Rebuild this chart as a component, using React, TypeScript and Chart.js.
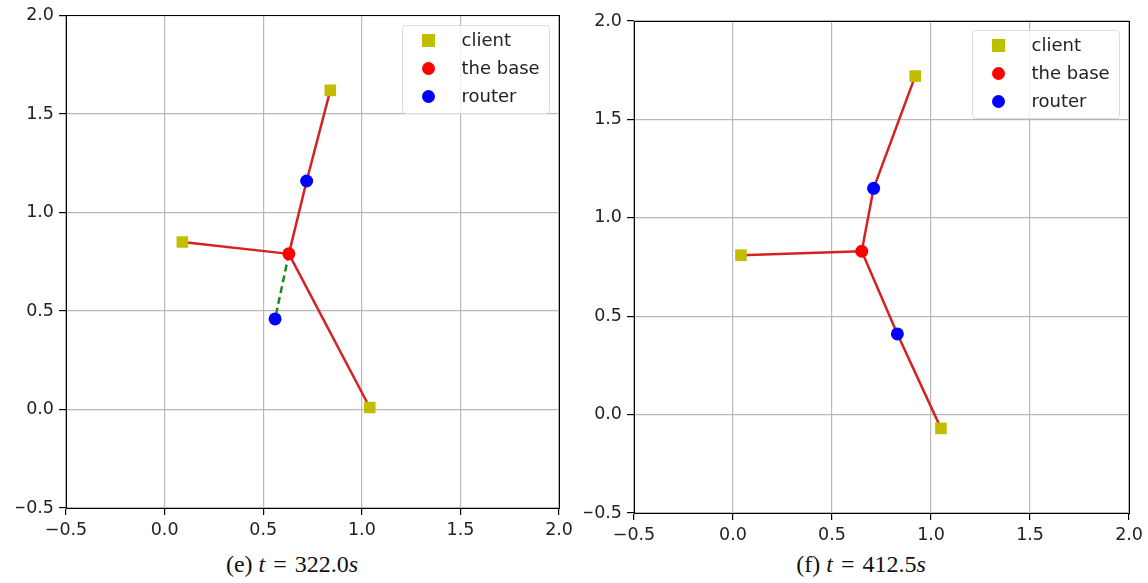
import React, { useEffect, useRef } from "react";
import { Chart, registerables } from "chart.js";

Chart.register(...registerables);

// ---------- data ----------
const TICKS = [-0.5, 0.0, 0.5, 1.0, 1.5, 2.0];
const LEGEND_LABELS = ["client", "the base", "router"];

// panel (e) t = 322.0s
const clientXE = [0.09, 0.84, 1.04];
const clientYE = [0.85, 1.62, 0.01];
const baseXE = [0.63];
const baseYE = [0.79];
const routerXE = [0.72, 0.56];
const routerYE = [1.16, 0.46];
const redLinksE = [["b0", "c0"], ["b0", "r0", "c1"], ["b0", "c2"]];
const greenLinksE = [["b0", "r1"]];

// panel (f) t = 412.5s
const clientXF = [0.04, 0.92, 1.05];
const clientYF = [0.81, 1.72, -0.07];
const baseXF = [0.65];
const baseYF = [0.83];
const routerXF = [0.71, 0.83];
const routerYF = [1.15, 0.41];
const redLinksF = [["b0", "c0"], ["b0", "r0", "c1"], ["b0", "r1", "c2"]];
const greenLinksF: string[][] = [];

// ---------- styles ----------
const CLIENT_COLOR = "#bfbf00";
const BASE_COLOR = "#ff0000";
const ROUTER_COLOR = "#0000ff";
const RED_LINE = "#d42222";
const GREEN_LINE = "#1a8a1a";
const TICK_FONT = { family: "'DejaVu Sans', sans-serif", size: 17.5 };

type PanelData = {
  clientX: number[];
  clientY: number[];
  baseX: number[];
  baseY: number[];
  routerX: number[];
  routerY: number[];
  red: string[][];
  green: string[][];
};

const panelE: PanelData = {
  clientX: clientXE, clientY: clientYE, baseX: baseXE, baseY: baseYE,
  routerX: routerXE, routerY: routerYE, red: redLinksE, green: greenLinksE,
};
const panelF: PanelData = {
  clientX: clientXF, clientY: clientYF, baseX: baseXF, baseY: baseYF,
  routerX: routerXF, routerY: routerYF, red: redLinksF, green: greenLinksF,
};

function node(id: string, p: PanelData) {
  const k = id[0];
  const i = parseInt(id.slice(1), 10);
  if (k === "c") return { x: p.clientX[i], y: p.clientY[i] };
  if (k === "b") return { x: p.baseX[i], y: p.baseY[i] };
  return { x: p.routerX[i], y: p.routerY[i] };
}

function fmt(v: number) {
  return (v < 0 ? "\u2212" : "") + Math.abs(v).toFixed(1);
}

const framePlugin = {
  id: "frameLegend",
  afterDraw(chart: any) {
    const ctx = chart.ctx as CanvasRenderingContext2D;
    const a = chart.chartArea;
    ctx.save();
    const l = Math.floor(a.left) + 0.5;
    const r = Math.floor(a.right) + 0.5;
    const t = Math.floor(a.top) + 0.5;
    const b = Math.floor(a.bottom) + 0.5;
    ctx.strokeStyle = "#000";
    ctx.lineWidth = 1;
    ctx.strokeRect(l, t, r - l, b - t);

    // legend box
    const w = 147;
    const h = 88;
    const bx = Math.round(a.right - 10 - w) + 0.5;
    const by = Math.round(a.top + 9) + 0.5;
    ctx.beginPath();
    const rad = 3;
    ctx.moveTo(bx + rad, by);
    ctx.lineTo(bx + w - rad, by);
    ctx.arcTo(bx + w, by, bx + w, by + rad, rad);
    ctx.lineTo(bx + w, by + h - rad);
    ctx.arcTo(bx + w, by + h, bx + w - rad, by + h, rad);
    ctx.lineTo(bx + rad, by + h);
    ctx.arcTo(bx, by + h, bx, by + h - rad, rad);
    ctx.lineTo(bx, by + rad);
    ctx.arcTo(bx, by, bx + rad, by, rad);
    ctx.closePath();
    ctx.fillStyle = "rgba(255,255,255,0.8)";
    ctx.fill();
    ctx.strokeStyle = "#dcdcdc";
    ctx.stroke();

    const colors = [CLIENT_COLOR, BASE_COLOR, ROUTER_COLOR];
    ctx.font = "18px 'DejaVu Sans', sans-serif";
    ctx.textBaseline = "middle";
    ctx.textAlign = "left";
    LEGEND_LABELS.forEach((label, i) => {
      const cy = by + 15 + i * 28;
      const cx = bx + 26;
      ctx.fillStyle = colors[i];
      if (i === 0) {
        ctx.fillRect(cx - 6.5, cy - 6.5, 13, 13);
      } else {
        ctx.beginPath();
        ctx.arc(cx, cy, 6.5, 0, Math.PI * 2);
        ctx.fill();
      }
      ctx.fillStyle = "#222";
      ctx.fillText(label, bx + 59, cy + 1);
    });
    ctx.restore();
  },
};

function makeScale() {
  return {
    type: "linear",
    min: -0.5,
    max: 2.0,
    afterBuildTicks: (s: any) => {
      s.ticks = TICKS.map((v) => ({ value: v }));
    },
    ticks: {
      callback: (v: any) => fmt(Number(v)),
      color: "#222",
      font: TICK_FONT,
      padding: 5,
      maxRotation: 0,
      autoSkip: false,
    },
    grid: {
      color: "#b8b8b8",
      lineWidth: 1.2,
      tickColor: "#000",
      tickLength: 7,
      drawTicks: true,
    },
    border: { display: true, color: "#000", width: 1 },
  };
}

function ChartPanel(props: {
  data: PanelData;
  left: number;
  width: number;
  height: number;
  padding: { left: number; right: number; top: number; bottom: number };
}) {
  const ref = useRef<HTMLCanvasElement | null>(null);
  useEffect(() => {
    const p = props.data;
    const datasets: any[] = [];
    p.red.forEach((link) => {
      datasets.push({
        label: "link",
        data: link.map((id) => node(id, p)),
        showLine: true,
        borderColor: RED_LINE,
        borderWidth: 2.5,
        pointRadius: 0,
        fill: false,
        tension: 0,
        order: 3,
      });
    });
    p.green.forEach((link) => {
      datasets.push({
        label: "link2",
        data: link.map((id) => node(id, p)),
        showLine: true,
        borderColor: GREEN_LINE,
        borderWidth: 2.5,
        borderDash: [7, 4],
        pointRadius: 0,
        fill: false,
        tension: 0,
        order: 3,
      });
    });
    datasets.push({
      label: LEGEND_LABELS[0],
      data: p.clientX.map((x, i) => ({ x, y: p.clientY[i] })),
      pointStyle: "rect",
      pointRadius: 8.2,
      backgroundColor: CLIENT_COLOR,
      borderWidth: 0,
      showLine: false,
      order: 1,
    });
    datasets.push({
      label: LEGEND_LABELS[1],
      data: p.baseX.map((x, i) => ({ x, y: p.baseY[i] })),
      pointStyle: "circle",
      pointRadius: 6.5,
      backgroundColor: BASE_COLOR,
      borderWidth: 0,
      showLine: false,
      order: 1,
    });
    datasets.push({
      label: LEGEND_LABELS[2],
      data: p.routerX.map((x, i) => ({ x, y: p.routerY[i] })),
      pointStyle: "circle",
      pointRadius: 6.5,
      backgroundColor: ROUTER_COLOR,
      borderWidth: 0,
      showLine: false,
      order: 1,
    });

    const xScale: any = makeScale();
    xScale.afterFit = (s: any) => {
      s.height = 30;
    };
    const yScale: any = makeScale();
    yScale.afterFit = (s: any) => {
      s.width = 50;
    };

    const chart = new Chart(ref.current as HTMLCanvasElement, {
      type: "scatter",
      data: { datasets },
      options: {
        animation: false,
        responsive: false,
        devicePixelRatio: 1,
        layout: { padding: props.padding },
        plugins: {
          legend: { display: false },
          tooltip: { enabled: false },
        },
        scales: { x: xScale, y: yScale },
      } as any,
      plugins: [framePlugin],
    });
    return () => chart.destroy();
  }, []);
  return (
    <canvas
      ref={ref}
      width={props.width}
      height={props.height}
      style={{
        position: "absolute",
        left: props.left,
        top: 0,
        width: props.width,
        height: props.height,
      }}
    />
  );
}

function Caption(props: { center: number; tag: string; value: string }) {
  return (
    <div
      style={{
        position: "absolute",
        left: props.center - 150,
        width: 300,
        top: 550,
        textAlign: "center",
        fontFamily: "'Liberation Serif', 'DejaVu Serif', serif",
        fontSize: 24,
        lineHeight: "28px",
        color: "#111",
        whiteSpace: "nowrap",
      }}
    >
      {props.tag} <i>t</i>
      <span style={{ margin: "0 8px" }}>=</span>
      {props.value}
      <i>s</i>
    </div>
  );
}

export default function App() {
  return (
    <div
      style={{
        position: "absolute",
        left: 0,
        top: 0,
        width: 1148,
        height: 583,
        background: "#fff",
        overflow: "hidden",
      }}
    >
      <ChartPanel
        data={panelE}
        left={0}
        width={578}
        height={548}
        padding={{ left: 16, right: 18, top: 15, bottom: 10 }}
      />
      <ChartPanel
        data={panelF}
        left={578}
        width={570}
        height={548}
        padding={{ left: 6, right: 18, top: 21, bottom: 5 }}
      />
      <Caption center={292} tag="(e)" value="322.0" />
      <Caption center={861} tag="(f)" value="412.5" />
    </div>
  );
}
